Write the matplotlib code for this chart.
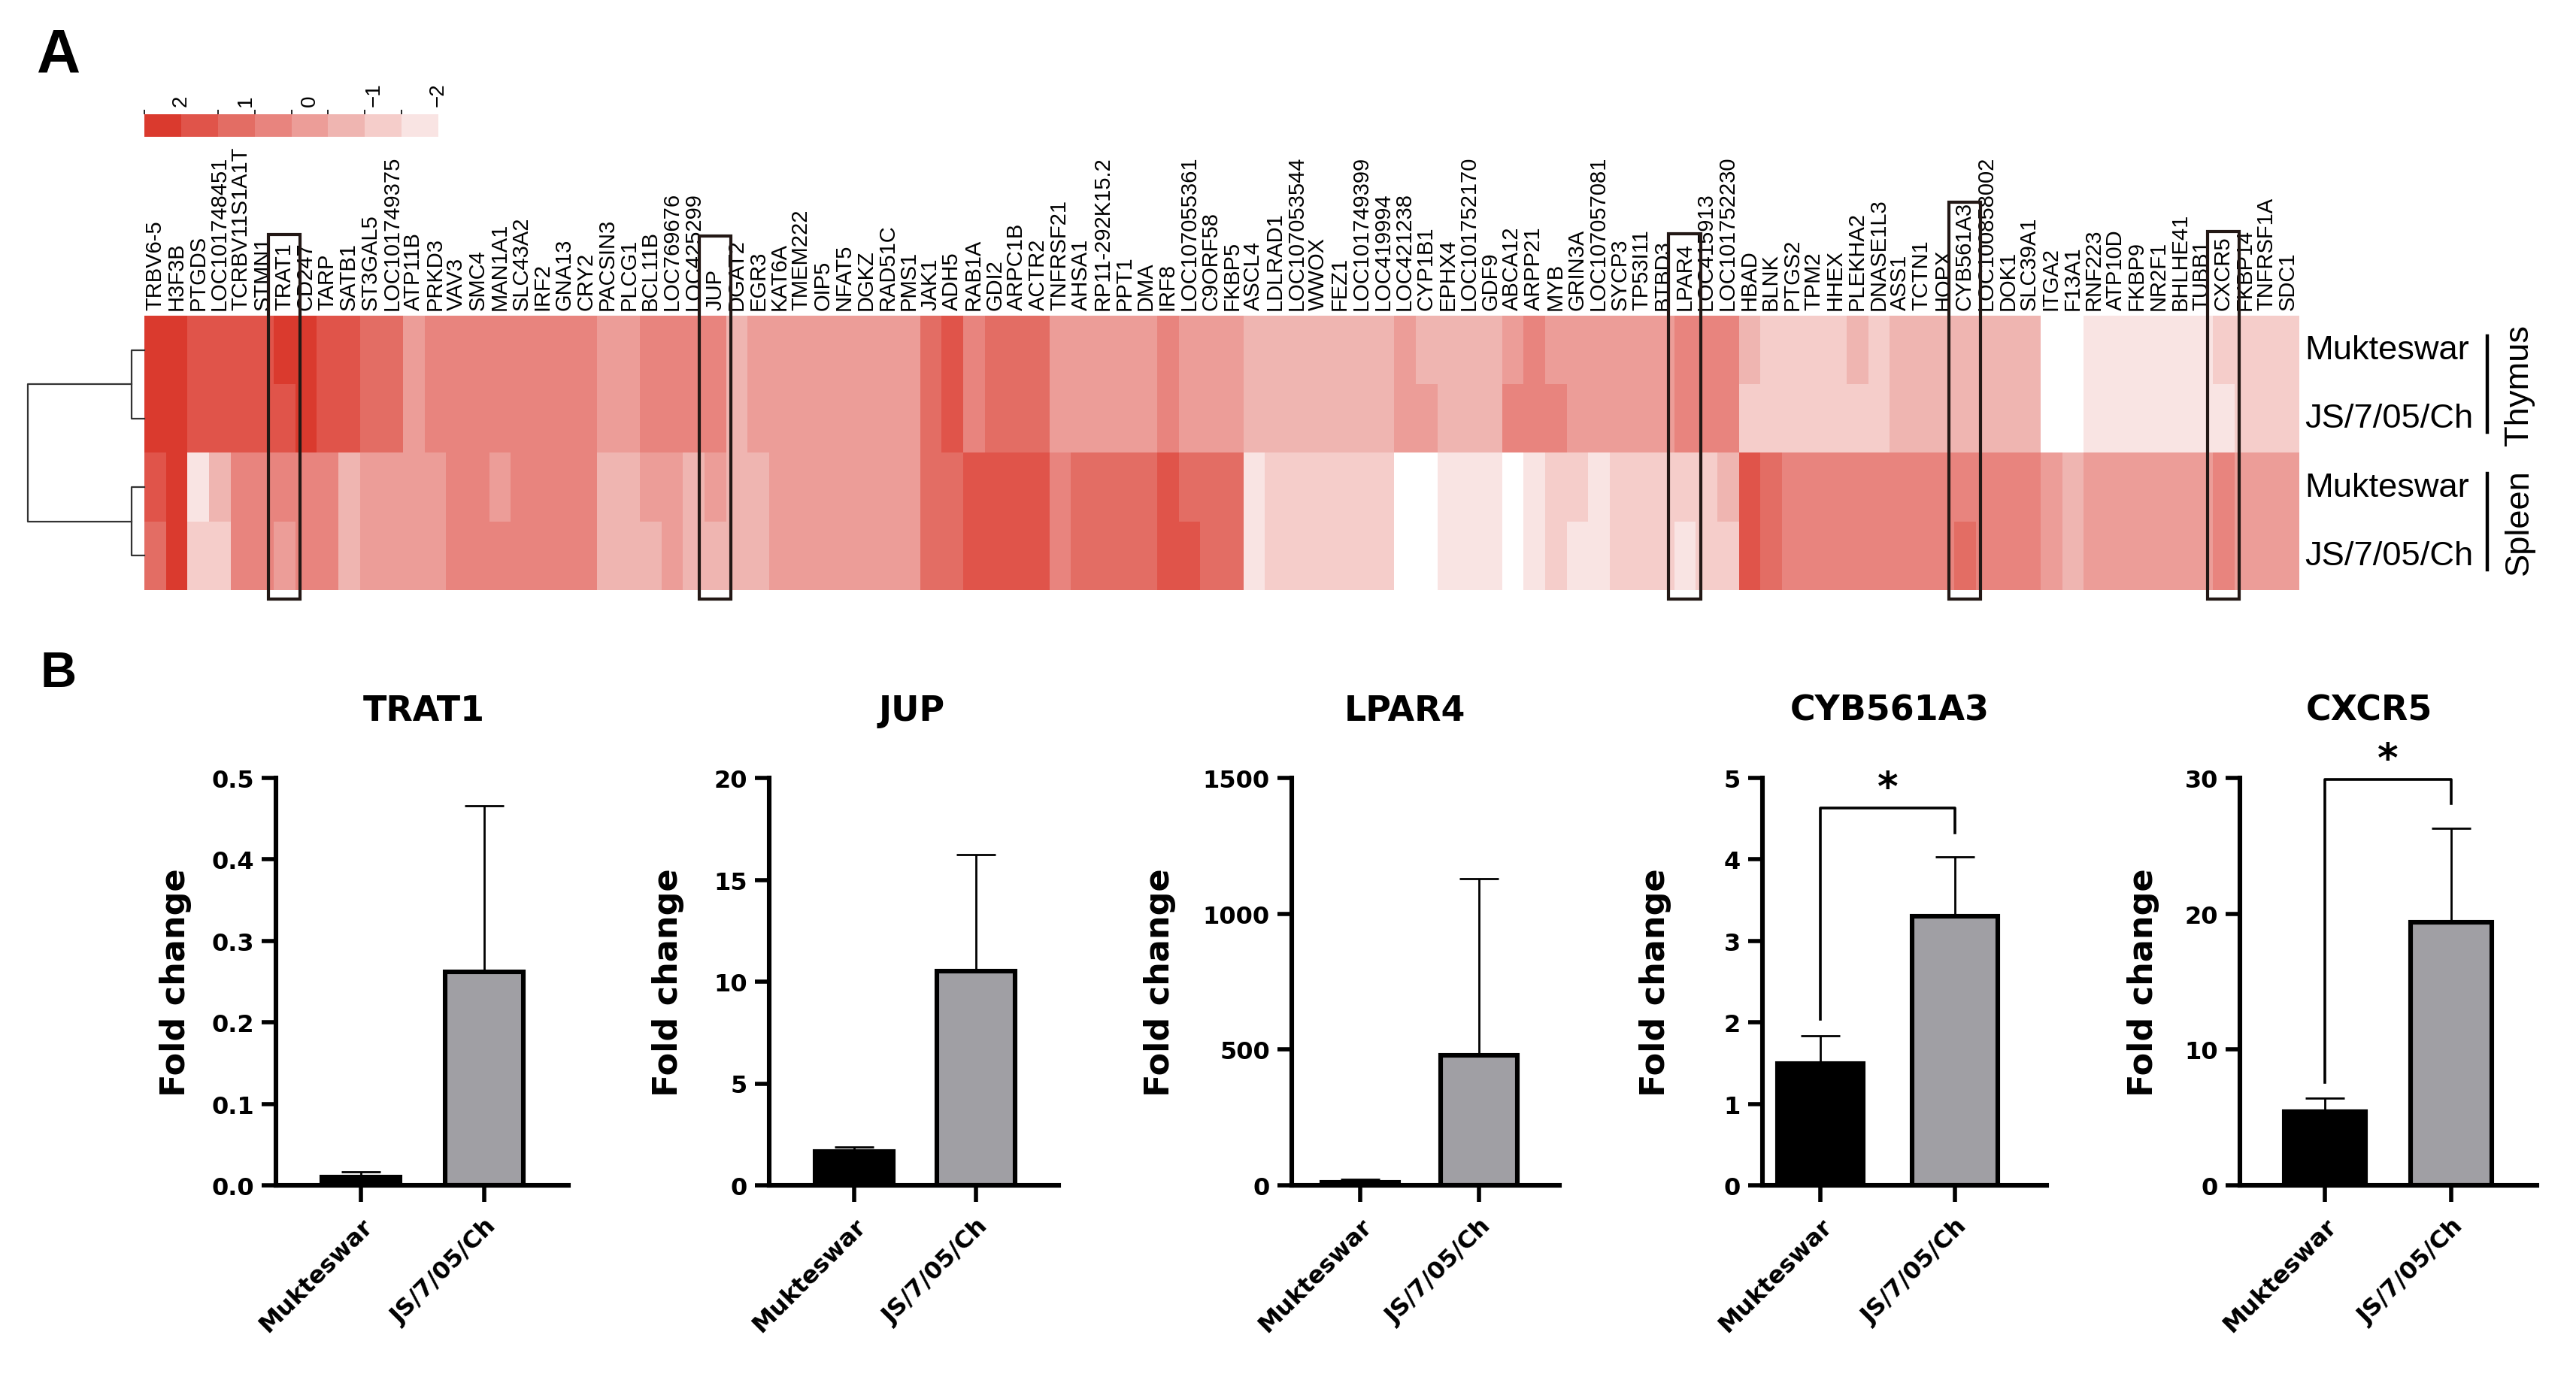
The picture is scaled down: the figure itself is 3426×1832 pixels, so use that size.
import numpy as np
import matplotlib
matplotlib.use("Agg")
import matplotlib.pyplot as plt
import matplotlib.transforms as mtransforms
from matplotlib.colors import ListedColormap, BoundaryNorm
from matplotlib.patches import Rectangle

plt.rcParams["font.family"] = ["Liberation Sans", "DejaVu Sans"]

W, H, DPI = 3426, 1833, 200

# ---------------- panel A data ----------------
genes = ["TRBV6-5", "H3F3B", "PTGDS", "LOC101748451", "TCRBV11S1A1T", "STMN1", "TRAT1", "CD247",
         "TARP", "SATB1", "ST3GAL5", "LOC101749375", "ATP11B", "PRKD3", "VAV3", "SMC4", "MAN1A1",
         "SLC43A2", "IRF2", "GNA13", "CRY2", "PACSIN3", "PLCG1", "BCL11B", "LOC769676", "LOC425299",
         "JUP", "DGAT2", "EGR3", "KAT6A", "TMEM222", "OIP5", "NFAT5", "DGKZ", "RAD51C", "PMS1",
         "JAK1", "ADH5", "RAB1A", "GDI2", "ARPC1B", "ACTR2", "TNFRSF21", "AHSA1", "RP11-292K15.2",
         "PPT1", "DMA", "IRF8", "LOC107055361", "C9ORF58", "FKBP5", "ASCL4", "LDLRAD1",
         "LOC107053544", "WWOX", "FEZ1", "LOC101749399", "LOC419994", "LOC421238", "CYP1B1",
         "EPHX4", "LOC101752170", "GDF9", "ABCA12", "ARPP21", "MYB", "GRIN3A", "LOC107057081",
         "SYCP3", "TP53I11", "BTBD3", "LPAR4", "LOC415913", "LOC101752230", "HBAD", "BLNK", "PTGS2",
         "TPM2", "HHEX", "PLEKHA2", "DNASE1L3", "ASS1", "TCTN1", "HOPX", "CYB561A3", "LOC100858002",
         "DOK1", "SLC39A1", "ITGA2", "F13A1", "RNF223", "ATP10D", "FKBP9", "NR2F1", "BHLHE41",
         "TUBB1", "CXCR5", "FKBP14", "TNFRSF1A", "SDC1"]
row_labels = ["Mukteswar", "JS/7/05/Ch", "Mukteswar", "JS/7/05/Ch"]
tissues = ["Thymus", "Spleen"]
highlight = ["TRAT1", "JUP", "LPAR4", "CYB561A3", "CXCR5"]

# row z-scores (values below -2 are off the scale and show white)
thymus_muk = [2.3, 2.3, 1.7, 1.7, 1.7, 1.7, 2.3, 2.3, 1.7, 1.7,
              1.1, 1.1, 0.0, 0.6, 0.6, 0.6, 0.6, 0.6, 0.6, 0.6,
              0.6, 0.0, 0.0, 0.6, 0.6, 0.6, 0.6, -0.6, 0.0, 0.0,
              0.0, 0.0, 0.0, 0.0, 0.0, 0.0, 1.1, 1.7, 0.6, 1.1,
              1.1, 1.1, 0.0, 0.0, 0.0, 0.0, 0.0, 0.6, 0.0, 0.0,
              0.0, -0.6, -0.6, -0.6, -0.6, -0.6, -0.6, -0.6, 0.0, -0.6,
              -0.6, -0.6, -0.6, 0.0, 0.6, 0.0, 0.0, 0.0, 0.0, 0.0,
              0.0, 0.6, 0.6, 0.6, -0.6, -1.1, -1.1, -1.1, -1.1, -0.6,
              -1.1, -0.6, -0.6, -0.6, -0.6, -0.6, -0.6, -0.6, -2.4, -2.4,
              -1.7, -1.7, -1.7, -1.7, -1.7, -1.7, -1.1, -1.1, -1.1, -1.1]
thymus_js = [2.3, 2.3, 1.7, 1.7, 1.7, 1.7, 1.7, 2.3, 1.7, 1.7,
             1.1, 1.1, 0.0, 0.6, 0.6, 0.6, 0.6, 0.6, 0.6, 0.6,
             0.6, 0.0, 0.0, 0.6, 0.6, 0.6, 0.6, -0.6, 0.0, 0.0,
             0.0, 0.0, 0.0, 0.0, 0.0, 0.0, 1.1, 1.7, 0.6, 1.1,
             1.1, 1.1, 0.0, 0.0, 0.0, 0.0, 0.0, 0.6, 0.0, 0.0,
             0.0, -0.6, -0.6, -0.6, -0.6, -0.6, -0.6, -0.6, 0.0, 0.0,
             -0.6, -0.6, -0.6, 0.6, 0.6, 0.6, 0.0, 0.0, 0.0, 0.0,
             0.0, 0.6, 0.6, 0.6, -1.1, -1.1, -1.1, -1.1, -1.1, -1.1,
             -1.1, -0.6, -0.6, -0.6, -0.6, -0.6, -0.6, -0.6, -2.4, -2.4,
             -1.7, -1.7, -1.7, -1.7, -1.7, -1.7, -1.7, -1.1, -1.1, -1.1]
spleen_muk = [1.7, 2.3, -1.7, -0.6, 0.6, 0.6, 0.6, 0.6, 0.6, -0.6,
              0.0, 0.0, 0.0, 0.0, 0.6, 0.6, 0.0, 0.6, 0.6, 0.6,
              0.6, -0.6, -0.6, 0.0, 0.0, -0.6, 0.0, -0.6, -0.6, 0.0,
              0.0, 0.0, 0.0, 0.0, 0.0, 0.0, 1.1, 1.1, 1.7, 1.7,
              1.7, 1.7, 0.6, 1.1, 1.1, 1.1, 1.1, 1.7, 1.1, 1.1,
              1.1, -1.7, -1.1, -1.1, -1.1, -1.1, -1.1, -1.1, -2.4, -2.4,
              -1.7, -1.7, -1.7, -2.4, -1.7, -1.1, -1.1, -1.7, -1.1, -1.1,
              -1.1, -1.1, -1.1, -0.6, 1.7, 1.1, 0.6, 0.6, 0.6, 0.6,
              0.6, 0.6, 0.6, 0.6, 0.6, 0.6, 0.6, 0.6, 0.0, -0.6,
              0.0, 0.0, 0.0, 0.0, 0.0, 0.0, 0.6, 0.0, 0.0, 0.0]
spleen_js = [1.1, 2.3, -1.1, -1.1, 0.6, 0.6, 0.0, 0.6, 0.6, -0.6,
             0.0, 0.0, 0.0, 0.0, 0.6, 0.6, 0.6, 0.6, 0.6, 0.6,
             0.6, -0.6, -0.6, -0.6, 0.0, -0.6, -0.6, -0.6, -0.6, 0.0,
             0.0, 0.0, 0.0, 0.0, 0.0, 0.0, 1.1, 1.1, 1.7, 1.7,
             1.7, 1.7, 0.6, 1.1, 1.1, 1.1, 1.1, 1.7, 1.7, 1.1,
             1.1, -1.7, -1.1, -1.1, -1.1, -1.1, -1.1, -1.1, -2.4, -2.4,
             -1.7, -1.7, -1.7, -2.4, -1.7, -1.1, -1.7, -1.7, -1.1, -1.1,
             -1.1, -1.7, -1.1, -1.1, 1.7, 1.1, 0.6, 0.6, 0.6, 0.6,
             0.6, 0.6, 0.6, 0.6, 1.1, 0.6, 0.6, 0.6, 0.0, -0.6,
             0.0, 0.0, 0.0, 0.0, 0.0, 0.0, 0.6, 0.0, 0.0, 0.0]

# sample clustering heights: within-tissue pairs, then the root
pair_heights = [0.108, 0.108]
root_height = 1.0

bin_edges = [-2.0, -1.429, -0.857, -0.286, 0.286, 0.857, 1.429, 2.0, 2.571]
bin_colors = ["#F9E4E3", "#F5CDCA", "#EFB5B1", "#EC9D98", "#E8847E", "#E36D64", "#E0544A", "#DA3A2E"]
cbar_ticks = [2, 1, 0, -1, -2]

# ---------------- panel B data ----------------
groups = ["Mukteswar", "JS/7/05/Ch"]
qpcr_genes = ["TRAT1", "JUP", "LPAR4", "CYB561A3", "CXCR5"]
muk_mean = [0.010, 1.65, 10, 1.49, 5.4]
muk_sd = [0.007, 0.22, 12, 0.35, 1.0]
js_mean = [0.262, 10.5, 480, 3.30, 19.4]
js_sd = [0.204, 5.75, 650, 0.73, 6.9]
y_max = [0.5, 20, 1500, 5, 30]
y_step = [0.1, 5, 500, 1, 10]
significance = ["", "", "", "*", "*"]


def rect(x0, y0, x1, y1):
    return [x0 / W, 1 - y1 / H, (x1 - x0) / W, (y1 - y0) / H]


fig = plt.figure(figsize=(W / DPI, H / DPI), dpi=DPI)

# ---- heatmap ----
cmap = ListedColormap(bin_colors)
cmap.set_under("white")
norm = BoundaryNorm(bin_edges, cmap.N)
data = np.array([thymus_muk, thymus_js, spleen_muk, spleen_js])

hm_x0, hm_x1, hm_y0, hm_y1 = 191.8, 3057, 421, 786
ax = fig.add_axes(rect(hm_x0, hm_y0, hm_x1, hm_y1))
im = ax.imshow(data, cmap=cmap, norm=norm, aspect="auto", interpolation="nearest")
ax.set_xticks(range(len(genes)))
ax.set_xticklabels(genes, rotation=90, fontsize=10.5)
ax.xaxis.tick_top()
ax.set_yticks([])
ax.tick_params(axis="x", length=0, pad=3)
for s in ax.spines.values():
    s.set_visible(False)

# boxes around the validated genes
box_top = {"TRAT1": 1.18, "JUP": 1.16, "LPAR4": 1.2, "CYB561A3": 1.66, "CXCR5": 1.23}
for g in highlight:
    i = genes.index(g)
    top = -0.5 - box_top[g]
    ax.add_patch(Rectangle((i - 0.74, top), 1.48, 3.5 + 0.13 - top, fill=False,
                           edgecolor="#231815", lw=1.5, clip_on=False, zorder=5))
ax.set_xlim(-0.5, len(genes) - 0.5)
ax.set_ylim(len(row_labels) - 0.5, -0.5)

# row labels, tissue brackets
tr = mtransforms.blended_transform_factory(ax.transAxes, ax.transData)
for r, lab in enumerate(row_labels):
    ax.text(1.003, r, lab, transform=tr, ha="left", va="center", fontsize=16.3)
for k, t in enumerate(tissues):
    r0, r1 = 2 * k, 2 * k + 1
    ax.plot([1.0875, 1.0875], [r0 - 0.2, r1 + 0.2], color="black", lw=1.6,
            transform=tr, clip_on=False)
    ax.text(1.1025, (r0 + r1) / 2, t, transform=tr, ha="center", va="center",
            rotation=90, fontsize=16.3)

# dendrogram
dax = fig.add_axes(rect(37, hm_y0, hm_x0, hm_y1))
dax.set_xlim(root_height, 0)
dax.set_ylim(len(row_labels) - 0.5, -0.5)
dax.axis("off")
mids = []
for k, h in enumerate(pair_heights):
    a, b = 2 * k, 2 * k + 1
    dax.plot([0, h, h, 0], [a, a, b, b], color="#333333", lw=0.8, clip_on=False)
    mids.append((a + b) / 2)
dax.plot([pair_heights[0], root_height, root_height, pair_heights[1]],
         [mids[0], mids[0], mids[1], mids[1]], color="#333333", lw=0.8, clip_on=False)

# colour key
cax = fig.add_axes(rect(192, 153, 583, 183))
cb = fig.colorbar(im, cax=cax, orientation="horizontal", ticks=cbar_ticks)
cax.invert_xaxis()
cax.xaxis.set_ticks_position("top")
cb.outline.set_visible(False)
cax.tick_params(length=0, pad=4, labelsize=10)
for lab in cax.get_xticklabels():
    lab.set_rotation(90)

fig.text(49 / W, 1 - 37 / H, "A", ha="left", va="top", fontsize=29, fontweight="bold",
         family=["Liberation Sans Narrow", "Liberation Sans"])
fig.text(54 / W, 1 - 866 / H, "B", ha="left", va="top", fontsize=24, fontweight="bold")

# ---------------- panel B ----------------
bar1_px = [480, 1136, 1809, 2421, 3092]
spacing_px = [164, 162, 158, 179, 168]
spine_px = [367, 1023, 1718, 2344, 2979]
ylabel_px = [234, 889, 1543, 2202, 2851]
title_px = [564, 1213, 1868, 2513, 3151]
bfont = dict(family="DejaVu Sans", fontweight="bold")
for k, g in enumerate(qpcr_genes):
    s = spacing_px[k]
    left_u = (spine_px[k] - bar1_px[k]) / s
    right_px = bar1_px[k] + 1.68 * s
    bx = fig.add_axes(rect(spine_px[k], 1036, right_px, 1578))
    width_px = right_px - spine_px[k]
    means = [muk_mean[k], js_mean[k]]
    sds = [muk_sd[k], js_sd[k]]
    bx.errorbar([0, 1], means, yerr=[[0, 0], sds], fmt="none", ecolor="black",
                elinewidth=1.0, capsize=9.5, capthick=1.0, zorder=1)
    bx.bar([0, 1], means, width=0.64, color=["black", "#A09FA4"], edgecolor="black",
           linewidth=2.2, zorder=2)
    bx.set_xlim(left_u, 1.68)
    bx.set_ylim(0, y_max[k])
    ticks = np.arange(0, y_max[k] + y_step[k] / 2, y_step[k])
    bx.set_yticks(ticks)
    if y_step[k] < 1:
        bx.set_yticklabels([f"{t:.1f}" for t in ticks], **bfont)
    else:
        bx.set_yticklabels([f"{t:.0f}" for t in ticks], **bfont)
    bx.set_xticks([0, 1])
    bx.set_xticklabels(groups, rotation=45, ha="right", va="top",
                       rotation_mode="anchor", **bfont)
    bx.tick_params(labelsize=11.5, width=2.0, length=7, direction="out")
    bx.tick_params(axis="x", length=8, pad=6)
    for side in ("top", "right"):
        bx.spines[side].set_visible(False)
    for side in ("left", "bottom"):
        bx.spines[side].set_linewidth(2.2)
    bx.set_ylabel("Fold change", fontsize=16, **bfont)
    bx.yaxis.set_label_coords((ylabel_px[k] + 21 - spine_px[k]) / width_px, 0.5)
    bx.text((title_px[k] - spine_px[k]) / width_px, 1.166, g, transform=bx.transAxes,
            ha="center", va="center", fontsize=16.5, **bfont)
    if significance[k]:
        ym = y_max[k]
        top = means[1] + sds[1] + 0.12 * ym
        left_end = means[0] + sds[0] + 0.04 * ym
        right_end = means[1] + sds[1] + 0.06 * ym
        bx.plot([0, 0, 1, 1], [left_end, top, top, right_end], color="black", lw=1.3,
                clip_on=False)
        bx.text(0.5, top, significance[k], ha="center", va="bottom", fontsize=19,
                clip_on=False, **bfont)

fig.savefig("out.png", dpi=DPI)
